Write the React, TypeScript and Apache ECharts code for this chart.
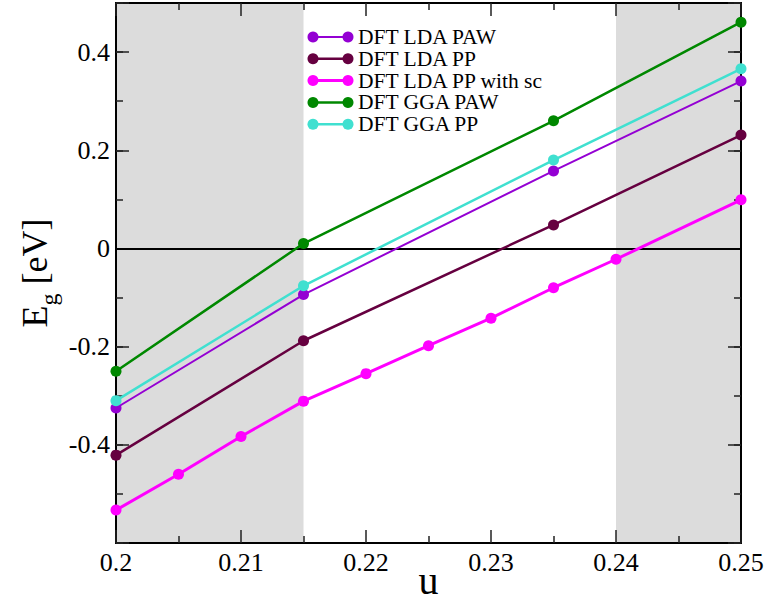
import React, { useEffect, useRef } from "react";
import * as echarts from "echarts";

const FONT = "Liberation Serif";

const uMain = [0.2, 0.215, 0.235, 0.25];
const uSc = [0.2, 0.205, 0.21, 0.215, 0.22, 0.225, 0.23, 0.235, 0.24, 0.25];

const ldaPaw = [-0.325, -0.094, 0.158, 0.341];
const ldaPp = [-0.421, -0.188, 0.048, 0.231];
const ldaPpSc = [-0.533, -0.46, -0.383, -0.311, -0.255, -0.198, -0.142, -0.08, -0.022, 0.099];
const ggaPaw = [-0.25, 0.01, 0.26, 0.461];
const ggaPp = [-0.31, -0.076, 0.18, 0.366];

const seriesNames = ["DFT LDA PAW", "DFT LDA PP", "DFT LDA PP with sc", "DFT GGA PAW", "DFT GGA PP"];
const seriesColors = ["#9400d3", "#660040", "#ff00ff", "#008800", "#40e0d0"];
const seriesWidths = [2, 2.5, 3, 2.5, 2.5];

const shadedRanges = [
  [0.2, 0.215],
  [0.24, 0.25],
];

const xMin = 0.2;
const xMax = 0.25;
const yMin = -0.6;
const yMax = 0.5;

function pairs(xs: number[], ys: number[]) {
  return xs.map((x, i) => [x, ys[i]]);
}

export default function App() {
  const ref = useRef<HTMLDivElement>(null);
  useEffect(() => {
    if (!ref.current) return;
    const chart = echarts.init(ref.current, null, { renderer: "svg" });
    const frameLine = { show: true, onZero: false, lineStyle: { color: "#000", width: 2 } };
    const tickStyle = { color: "#222", width: 1.5 };
    const dataSets = [
      pairs(uMain, ldaPaw),
      pairs(uMain, ldaPp),
      pairs(uSc, ldaPpSc),
      pairs(uMain, ggaPaw),
      pairs(uMain, ggaPp),
    ];
    const series: any[] = dataSets.map((d, i) => ({
      name: seriesNames[i],
      type: "line",
      data: d,
      xAxisIndex: 0,
      yAxisIndex: 0,
      symbol: "circle",
      symbolSize: 11,
      showSymbol: true,
      color: seriesColors[i],
      itemStyle: { color: seriesColors[i], borderWidth: 0 },
      lineStyle: { color: seriesColors[i], width: seriesWidths[i] },
      z: 5 + i,
    }));
    series[0].markArea = {
      silent: true,
      itemStyle: { color: "#dcdcdc" },
      data: shadedRanges.map((r) => [{ xAxis: r[0] }, { xAxis: r[1] }]),
      z: 0,
    };
    series[0].markLine = {
      silent: true,
      symbol: "none",
      label: { show: false },
      lineStyle: { color: "#000", width: 2, type: "solid" },
      data: [{ yAxis: 0 }],
    };

    const yBase = {
      type: "value",
      min: yMin,
      max: yMax,
      splitLine: { show: false },
      axisLine: frameLine,
    };

    const richT = { t: { fontFamily: FONT, fontSize: 26, color: "#000" } };

    // legend drawn as graphic rows (xmgrace style: line with a dot at each end)
    const legendX0 = 313;
    const legendX1 = 348;
    const legendTop = 37;
    const legendStep = 21.8;
    const legendGraphics: any[] = [];
    seriesNames.forEach((name, i) => {
      const y = legendTop + i * legendStep;
      legendGraphics.push({
        type: "line",
        shape: { x1: legendX0, y1: y, x2: legendX1, y2: y },
        style: { stroke: seriesColors[i], lineWidth: seriesWidths[i] },
        z: 20,
      });
      [legendX0, legendX1].forEach((cx) =>
        legendGraphics.push({
          type: "circle",
          shape: { cx, cy: y, r: 5.5 },
          style: { fill: seriesColors[i] },
          z: 21,
        })
      );
      legendGraphics.push({
        type: "text",
        x: 358,
        y,
        style: {
          text: name,
          fontFamily: FONT,
          fontSize: 21.5,
          fill: "#000",
          verticalAlign: "middle",
          align: "left",
        },
        z: 21,
      });
    });

    chart.setOption({
      animation: false,
      backgroundColor: "#fff",
      textStyle: { fontFamily: FONT, color: "#000" },
      grid: {
        left: 116,
        right: 27,
        top: 3,
        bottom: 61,
        containLabel: false,
        outerBoundsMode: "none",
      },
      graphic: legendGraphics,
      xAxis: [
        {
          type: "value",
          min: xMin,
          max: xMax,
          interval: 0.01,
          position: "bottom",
          name: "u",
          nameLocation: "middle",
          nameGap: 17,
          nameMoveOverlap: false,
          nameTextStyle: { fontFamily: FONT, fontSize: 40, color: "#000" },
          splitLine: { show: false },
          axisLine: frameLine,
          axisTick: { inside: true, length: 13, lineStyle: tickStyle },
          minorTick: { show: true, splitNumber: 2, length: 7, lineStyle: tickStyle },
          axisLabel: {
            margin: 6,
            formatter: (v: number) => `{t|${Math.round(v * 1000) / 1000}}`,
            rich: richT,
          },
        },
        {
          type: "value",
          min: xMin,
          max: xMax,
          interval: 0.01,
          position: "top",
          splitLine: { show: false },
          axisLine: frameLine,
          axisTick: { inside: true, length: 13, lineStyle: tickStyle },
          minorTick: { show: true, splitNumber: 2, length: 7, lineStyle: tickStyle },
          axisLabel: { show: false },
        },
      ],
      yAxis: [
        {
          ...yBase,
          interval: 0.2,
          position: "left",
          name: "{a|E}{b|g}{a| [eV]}",
          nameLocation: "middle",
          nameGap: 63,
          nameMoveOverlap: false,
          nameTextStyle: {
            fontFamily: FONT,
            fontSize: 36,
            color: "#000",
            rich: {
              a: { fontFamily: FONT, fontSize: 36, lineHeight: 36, color: "#000", verticalAlign: "top" },
              b: {
                fontFamily: FONT,
                fontSize: 24,
                lineHeight: 24,
                color: "#000",
                verticalAlign: "top",
                padding: [20, 0, 0, 0],
              },
            },
          },
          axisTick: { inside: true, length: 13, lineStyle: tickStyle },
          axisLabel: {
            margin: 6,
            rich: richT,
            formatter: (v: number) => {
              const r = Math.round(v * 10);
              if (r % 2 !== 0 || r === -6) return "";
              return `{t|${r === 0 ? "0" : String(r / 10)}}`;
            },
          },
        },
        {
          ...yBase,
          interval: 0.2,
          position: "right",
          axisTick: { inside: true, length: 13, lineStyle: tickStyle },
          axisLabel: { show: false },
        },
        {
          ...yBase,
          interval: 0.1,
          position: "left",
          axisTick: { inside: true, length: 7, lineStyle: tickStyle },
          axisLabel: { show: false },
        },
        {
          ...yBase,
          interval: 0.1,
          position: "right",
          axisTick: { inside: true, length: 7, lineStyle: tickStyle },
          axisLabel: { show: false },
        },
      ],
      series,
    });
    return () => chart.dispose();
  }, []);
  return (
    <div
      ref={ref}
      style={{ position: "fixed", left: 0, top: 0, width: 768, height: 604 }}
    />
  );
}
